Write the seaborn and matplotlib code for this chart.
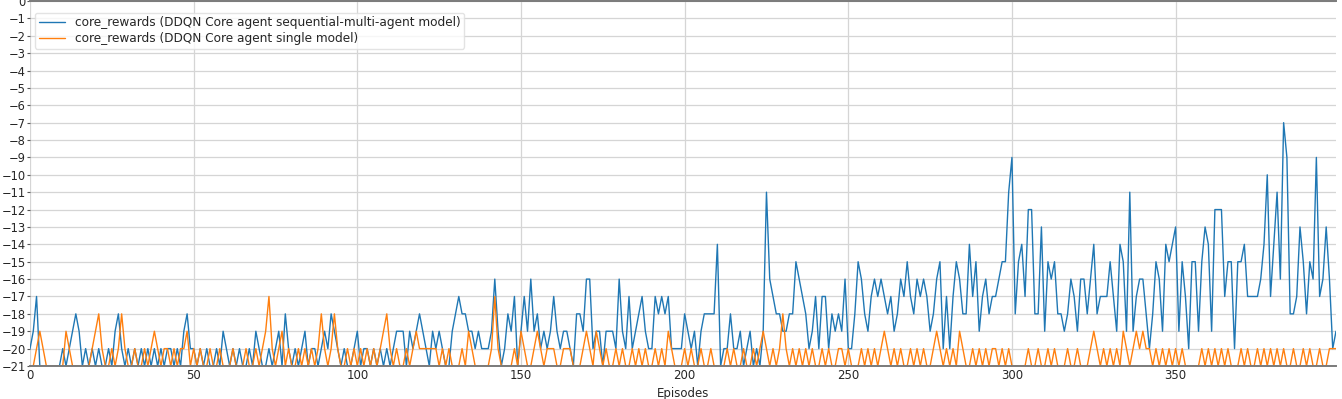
import numpy as np
import pandas as pd
import matplotlib
matplotlib.use("Agg")
import matplotlib.pyplot as plt
import seaborn as sns

label_multi = "core_rewards (DDQN Core agent sequential-multi-agent model)"
label_single = "core_rewards (DDQN Core agent single model)"

multi_rewards = [
    -20, -19, -17, -21, -21, -21, -21, -21, -21, -21,
    -20, -21, -20, -19, -18, -19, -21, -20, -21, -20,
    -21, -20, -21, -21, -20, -21, -19, -18, -20, -21,
    -20, -21, -20, -21, -20, -21, -20, -21, -20, -21,
    -20, -21, -20, -20, -21, -20, -21, -19, -18, -20,
    -20, -21, -20, -21, -20, -21, -21, -20, -21, -19,
    -20, -21, -20, -21, -20, -21, -21, -20, -21, -19,
    -20, -21, -21, -20, -21, -20, -19, -21, -18, -20,
    -21, -20, -21, -20, -19, -21, -20, -20, -21, -20,
    -19, -20, -18, -19, -20, -21, -20, -21, -21, -20,
    -19, -21, -20, -20, -21, -20, -21, -20, -21, -20,
    -21, -20, -19, -19, -19, -21, -19, -20, -19, -18,
    -19, -20, -21, -19, -20, -19, -20, -21, -21, -19,
    -18, -17, -18, -18, -19, -19, -20, -19, -20, -20,
    -20, -19, -16, -19, -21, -20, -18, -19, -17, -21,
    -19, -17, -19, -16, -19, -18, -20, -19, -20, -19,
    -17, -19, -20, -19, -19, -20, -21, -18, -18, -19,
    -16, -16, -20, -19, -19, -21, -19, -19, -19, -20,
    -16, -19, -20, -17, -20, -19, -18, -17, -19, -20,
    -20, -17, -18, -17, -18, -17, -20, -20, -20, -20,
    -18, -19, -20, -19, -21, -19, -18, -18, -18, -18,
    -14, -21, -20, -20, -18, -20, -20, -19, -21, -20,
    -19, -21, -20, -21, -19, -11, -16, -17, -18, -18,
    -19, -19, -18, -18, -15, -16, -17, -18, -20, -19,
    -17, -20, -17, -17, -20, -18, -19, -18, -19, -16,
    -20, -20, -18, -15, -16, -18, -19, -17, -16, -17,
    -16, -17, -18, -17, -19, -18, -16, -17, -15, -17,
    -18, -16, -17, -16, -17, -19, -18, -16, -15, -20,
    -17, -20, -17, -15, -16, -18, -18, -14, -17, -15,
    -19, -17, -16, -18, -17, -17, -16, -15, -15, -11,
    -9, -18, -15, -14, -17, -12, -12, -18, -18, -13,
    -19, -15, -16, -15, -18, -18, -19, -18, -16, -17,
    -19, -16, -16, -18, -16, -14, -18, -17, -17, -17,
    -15, -17, -19, -14, -15, -19, -11, -19, -17, -16,
    -16, -18, -20, -18, -15, -16, -19, -14, -15, -14,
    -13, -19, -15, -17, -20, -15, -15, -19, -15, -13,
    -14, -19, -12, -12, -12, -17, -15, -15, -20, -15,
    -15, -14, -17, -17, -17, -17, -16, -14, -10, -17,
    -14, -11, -16, -7, -9, -18, -18, -17, -13, -15,
    -18, -15, -16, -9, -17, -16, -13, -16, -20, -19,
]

single_rewards = [
    -21, -21, -20, -19, -20, -21, -21, -21, -21, -21,
    -21, -19, -20, -21, -21, -21, -21, -21, -21, -20,
    -19, -18, -20, -21, -21, -20, -21, -20, -18, -20,
    -21, -21, -20, -21, -21, -20, -21, -20, -19, -20,
    -21, -20, -20, -21, -20, -21, -20, -20, -19, -21,
    -20, -21, -20, -21, -21, -20, -21, -21, -20, -21,
    -21, -21, -20, -21, -21, -21, -20, -21, -21, -20,
    -21, -20, -19, -17, -20, -21, -20, -19, -21, -20,
    -21, -21, -20, -21, -20, -21, -20, -21, -20, -18,
    -20, -21, -20, -18, -20, -21, -21, -20, -21, -20,
    -21, -20, -21, -20, -21, -20, -21, -20, -19, -18,
    -20, -21, -20, -21, -21, -20, -21, -20, -19, -20,
    -20, -20, -20, -20, -20, -21, -20, -21, -20, -21,
    -21, -21, -20, -21, -19, -20, -21, -21, -21, -21,
    -21, -20, -17, -20, -21, -21, -21, -21, -20, -21,
    -19, -20, -21, -21, -20, -19, -20, -21, -20, -20,
    -20, -21, -21, -20, -20, -20, -21, -21, -21, -20,
    -19, -20, -21, -19, -20, -21, -20, -21, -21, -20,
    -21, -20, -21, -21, -20, -21, -20, -21, -20, -21,
    -21, -20, -21, -20, -21, -19, -20, -21, -21, -21,
    -20, -21, -20, -21, -21, -20, -21, -21, -20, -21,
    -21, -21, -21, -20, -21, -20, -21, -21, -20, -21,
    -21, -20, -21, -20, -19, -20, -21, -20, -21, -20,
    -18, -20, -21, -20, -21, -20, -21, -20, -21, -20,
    -21, -21, -20, -21, -20, -21, -21, -20, -20, -21,
    -20, -21, -21, -21, -20, -21, -20, -21, -20, -21,
    -20, -19, -20, -21, -20, -21, -20, -21, -21, -20,
    -21, -20, -21, -20, -21, -21, -20, -19, -20, -21,
    -20, -21, -20, -21, -19, -20, -21, -21, -20, -21,
    -20, -21, -20, -21, -20, -20, -21, -20, -21, -20,
    -21, -21, -21, -21, -21, -20, -21, -21, -20, -21,
    -21, -20, -21, -20, -21, -21, -21, -20, -21, -21,
    -20, -21, -21, -21, -20, -19, -20, -21, -20, -21,
    -20, -21, -20, -21, -19, -20, -21, -20, -19, -20,
    -19, -20, -20, -21, -20, -21, -20, -21, -20, -21,
    -20, -21, -20, -21, -21, -21, -21, -21, -20, -21,
    -20, -21, -20, -21, -20, -21, -20, -21, -21, -21,
    -20, -21, -20, -21, -21, -20, -21, -20, -21, -20,
    -21, -20, -21, -20, -21, -21, -20, -21, -21, -20,
    -21, -20, -21, -21, -20, -21, -21, -20, -20, -20,
]

episodes = list(range(len(multi_rewards)))
y_ticks = list(range(-21, 1))
x_ticks = [0, 50, 100, 150, 200, 250, 300, 350]

sns.set_style("whitegrid")
plt.rcParams["font.family"] = ["DejaVu Sans"]

fig = plt.figure(figsize=(13.42, 3.99), dpi=100)
ax = fig.add_axes([30 / 1342, 33 / 399, 1306 / 1342, 365 / 399])

df_multi = pd.DataFrame({"Episodes": episodes, "reward": multi_rewards})
df_single = pd.DataFrame({"Episodes": episodes, "reward": single_rewards})

sns.lineplot(data=df_multi, x="Episodes", y="reward", ax=ax, color="#1f77b4",
             linewidth=1.0, label=label_multi, estimator=None)
sns.lineplot(data=df_single, x="Episodes", y="reward", ax=ax, color="#ff7f0e",
             linewidth=1.0, label=label_single, estimator=None)

ax.set_xlim(0, 399)
ax.set_ylim(-21, 0)
ax.set_yticks(y_ticks)
ax.set_xticks(x_ticks)
ax.set_ylabel("")
ax.set_xlabel("Episodes", fontsize=8.5, labelpad=3.5)
ax.tick_params(axis="y", labelsize=8.3, length=2, width=0.8, color="#555555",
               left=True, pad=1)
ax.tick_params(axis="x", labelsize=8.5, length=0, bottom=True, pad=2.5)
ax.grid(True, color="#d5d5d5", linewidth=0.9)
for side, sp in ax.spines.items():
    sp.set_color("#7a7a7a")
    sp.set_linewidth(1.4)
ax.spines["left"].set_visible(False)
ax.spines["right"].set_visible(False)

leg = ax.legend(loc="upper left", bbox_to_anchor=(0.002, 0.975), fontsize=8.7,
                frameon=True, framealpha=0.8, edgecolor="#dddddd", fancybox=True,
                borderaxespad=0.2, borderpad=0.3, labelspacing=0.25,
                handlelength=2.2)

fig.savefig("out.png", dpi=100)
